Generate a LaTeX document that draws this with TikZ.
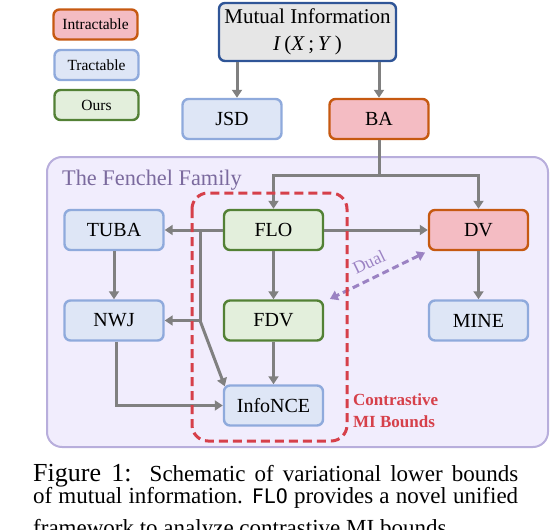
\documentclass[tikz,border=0pt]{standalone}
\usepackage{fontspec}
\setmainfont{Liberation Serif}
\newfontfamily\capmono{DejaVu Sans Mono}
\usetikzlibrary{arrows.meta,calc}
\definecolor{ifill}{HTML}{F4BCC3}
\definecolor{iborder}{HTML}{C65911}
\definecolor{tfill}{HTML}{DEE6F6}
\definecolor{tborder}{HTML}{8FAADC}
\definecolor{ofill}{HTML}{E3EFDC}
\definecolor{oborder}{HTML}{538135}
\definecolor{mifill}{HTML}{E6E6E6}
\definecolor{miborder}{HTML}{2F5597}
\definecolor{fenfill}{HTML}{F1EDFD}
\definecolor{fenborder}{HTML}{B8AEDC}
\definecolor{fentext}{HTML}{7B6A9E}
\definecolor{redd}{HTML}{D6404A}
\definecolor{dualc}{HTML}{9B82C3}
\definecolor{arrgray}{HTML}{808080}
\tikzset{
  bx/.style={rounded corners=6pt, line width=2.4pt, minimum width=99pt, minimum height=40pt, inner sep=0pt, font=\fontsize{20}{22}\selectfont},
  leg/.style={bx, minimum width=84pt, minimum height=30pt, font=\fontsize{15.5}{17}\selectfont},
  intr/.style={draw=iborder, fill=ifill},
  tract/.style={draw=tborder, fill=tfill},
  ours/.style={draw=oborder, fill=ofill},
  arr/.style={draw=arrgray, line width=3pt, -{Triangle[length=8pt,width=10pt]}},
  ln/.style={draw=arrgray, line width=3pt},
  capline/.style={anchor=base west, inner sep=0pt, font=\fontsize{23}{24}\selectfont}
}
\begin{document}
\begin{tikzpicture}[x=1pt,y=-1pt]
\useasboundingbox (0,0) rectangle (550,530);
% Fenchel family background
\draw[fill=fenfill, draw=fenborder, line width=2pt, rounded corners=15pt] (47,157) rectangle (548,447);
\node[anchor=base west, inner sep=0pt, text=fentext, font=\fontsize{22.3}{24}\selectfont] (fentitle) at (62,185) {The Fenchel Family};
% legend
\node[leg, intr] (lint) at (95.5,24.5) {Intractable};
\node[leg, tract] (ltr) at (96.5,65) {Tractable};
\node[leg, ours] (lours) at (96.5,105) {Ours};
% nodes
\node[bx, draw=miborder, fill=mifill, minimum width=177pt, minimum height=58pt, font=\fontsize{21}{27}\selectfont, align=center] (MI) at (307.5,32) {Mutual Information\\\textit{I}\,(\textit{X}\,;\,\textit{Y}\,)};
\node[bx, tract] (JSD) at (232,119) {JSD};
\node[bx, intr] (BA) at (379,119) {BA};
\node[bx, tract] (TUBA) at (114,230) {TUBA};
\node[bx, ours] (FLO) at (273.5,230) {FLO};
\node[bx, intr] (DV) at (478.5,230) {DV};
\node[bx, tract] (NWJ) at (114,320.5) {NWJ};
\node[bx, ours] (FDV) at (273.5,320.5) {FDV};
\node[bx, tract] (MINE) at (478.5,320.5) {MINE};
\node[bx, tract] (InfoNCE) at (273.5,405.5) {InfoNCE};
% connectors
\draw[arr] ($(MI.south -| JSD.north)+(5,0)$) -- ($(JSD.north)+(5,0)$);
\draw[arr] (MI.south -| BA.north) -- (BA.north);
\coordinate (j) at (379,175);
\draw[ln] (BA.south) -- (j);
\draw[arr] (j) -| (FLO.north);
\draw[arr] (j) -| (DV.north);
\draw[arr] (FLO.west) -- (TUBA.east);
\draw[arr] (FLO.east) -- (DV.west);
\draw[arr] (FLO.south) -- (FDV.north);
\draw[arr] (TUBA.south) -- (NWJ.north);
\coordinate (b1) at (200,230);
\coordinate (b2) at (200,320.5);
\draw[ln] (b1) -- (b2);
\draw[arr] (b2) -- (NWJ.east);
\draw[arr] (b2) -- ($(InfoNCE.north west)+(2,2)$);
\draw[arr] (FDV.south) -- (InfoNCE.north);
\draw[arr] ($(NWJ.south)+(2,0)$) |- (InfoNCE.west);
\draw[arr] (DV.south) -- (MINE.north);
% dual
\draw[draw=dualc, line width=3pt, dash pattern=on 7pt off 4pt, {Triangle[length=8pt,width=10pt]}-{Triangle[length=8pt,width=10pt]}, shorten <=3pt, shorten >=3pt] (DV.south west) -- ($(FDV.north east)+(3,1)$);
\node[text=dualc, rotate=26, font=\fontsize{17.5}{18}\selectfont, inner sep=0pt] (dual) at (369,262) {Dual};
% contrastive box
\draw[draw=redd, line width=3pt, dash pattern=on 9pt off 5pt, rounded corners=16pt] (192,193) rectangle (347,441);
\node[anchor=base west, inner sep=0pt, text=redd, font=\bfseries\fontsize{17}{22}\selectfont, align=left] (cmi) at (353,405) {Contrastive};
\node[anchor=base west, inner sep=0pt, text=redd, font=\bfseries\fontsize{17}{22}\selectfont, align=left] (cmi2) at (353,427) {MI Bounds};
% caption
\node[capline] (cap1) at (33,481) {\makebox[485pt][s]{{\fontsize{26}{26}\selectfont Figure 1:}\ \ Schematic of variational lower bounds}};
\node[capline] (cap2) at (33,503.5) {\makebox[485pt][s]{of mutual information. {\capmono\fontsize{20}{20}\selectfont FLO} provides a novel unified}};
\node[capline] (cap3) at (33,535) {framework to analyze contrastive MI bounds.};
\end{tikzpicture}
\end{document}
